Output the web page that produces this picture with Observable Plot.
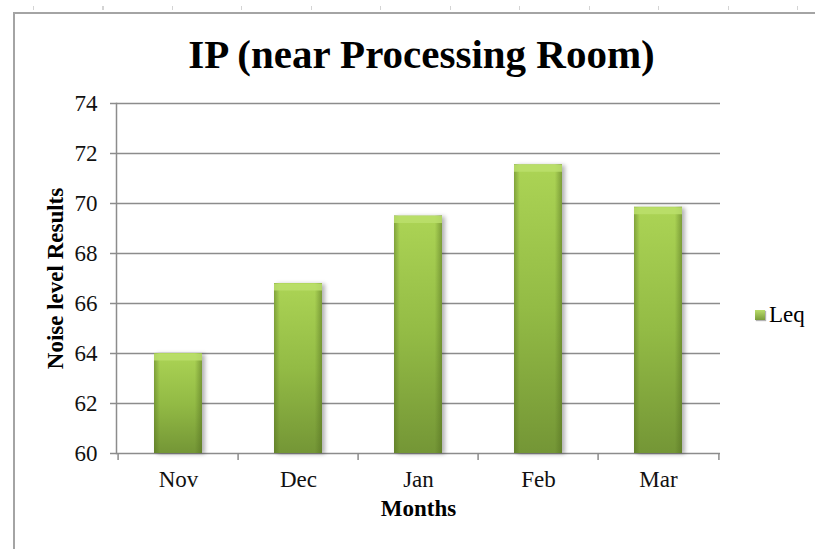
<!DOCTYPE html>
<html>
<head>
<meta charset="utf-8">
<script src="https://cdn.jsdelivr.net/npm/d3@7"></script>
<script src="https://cdn.jsdelivr.net/npm/@observablehq/plot@0.6"></script>
<style>
  html, body { margin: 0; padding: 0; background: #fff; }
  #wrap { position: relative; width: 815px; height: 549px; overflow: hidden; background: #fff; font-family: "Liberation Serif", "Times New Roman", serif; }
  #title { padding-top: 34px; height: 40px; line-height: 40px; padding-bottom: 11px; font-size: 41px; font-weight: bold; text-align: center; padding-left: 28px; box-sizing: content-box; color: #000; }
  #frameTop { position: absolute; left: 14px; top: 12px; width: 801px; height: 2px; background: #a4a4a4; }
  #frameLeft { position: absolute; left: 13px; top: 12px; width: 2px; height: 537px; background: #a4a4a4; }
  #ruler { position: absolute; left: 33px; top: 6px; width: 782px; height: 4px; background: repeating-linear-gradient(to right, #d4d4d4 0 1px, transparent 1px 69.5px); }
  #legend { position: absolute; left: 755px; top: 302px; font-size: 23px; display: flex; align-items: center; color: #000; }
  #legend .sw { width: 10px; height: 10px; margin-right: 4px; background: linear-gradient(to bottom, #b9dd6a, #7a9c3a); box-shadow: 1px 1px 1px rgba(0,0,0,0.3); }
  #chart svg text { font-family: "Liberation Serif", "Times New Roman", serif; }
  svg g[aria-label="y-axis tick"] { stroke: #8c8c8c; stroke-width: 1.5; }
</style>
</head>
<body>
<div id="wrap">
  <div id="frameTop"></div>
  <div id="frameLeft"></div>
  <div id="ruler"></div>
  <div id="title"></div>
  <div id="chart"></div>
  <div id="legend"><div class="sw"></div><span id="legText"></span></div>
</div>
<script>
const chartTitle = "IP (near Processing Room)";
const yLabel = "Noise level Results";
const xLabel = "Months";
const seriesName = "Leq";
const months = ["Nov", "Dec", "Jan", "Feb", "Mar"];
const leq = [64.0, 66.8, 69.5, 71.55, 69.85];
const yTicks = [60, 62, 64, 66, 68, 70, 72, 74];

document.getElementById("title").textContent = chartTitle;
document.getElementById("legText").textContent = seriesName;

const data = months.map((m, i) => ({month: m, value: leq[i]}));
const baseline = yTicks[0];

const W = 815, H = 464, ML = 116, MR = 95, MT = 18, MB = 96;
const step = (W - ML - MR) / months.length;
const plotH = H - MT - MB;
const gray = "#8c8c8c";

const plot = Plot.plot({
  width: W, height: H,
  marginLeft: ML, marginRight: MR, marginTop: MT, marginBottom: MB,
  style: {fontFamily: "Liberation Serif, Times New Roman, serif", fontSize: "23px", color: "#111", background: "transparent"},
  x: {type: "band", domain: months, paddingInner: 0.6, paddingOuter: 0.3, label: null},
  y: {domain: [yTicks[0], yTicks[yTicks.length - 1]], label: null},
  marks: [
    Plot.ruleY(yTicks, {stroke: gray, strokeWidth: 1.5}),
    Plot.barY(data, {x: "month", y1: () => baseline, y2: "value", fill: "url(#barV)"}),
    Plot.barY(data, {x: "month", y1: () => baseline, y2: "value", fill: "url(#barH)"}),
    Plot.tickY(data, {x: "month", y: "value", stroke: "#bbdf6c", strokeWidth: 7, dy: 3.5, strokeOpacity: 0.85}),
    Plot.frame({anchor: "left", stroke: gray, strokeWidth: 1.5}),
    Plot.ruleX(months, {x: d => d, dx: -step / 2, insetTop: plotH, insetBottom: -7, stroke: gray, strokeWidth: 1.5}),
    Plot.ruleX([months[months.length - 1]], {x: d => d, dx: step / 2, insetTop: plotH, insetBottom: -7, stroke: gray, strokeWidth: 1.5}),
    Plot.axisY({ticks: yTicks, tickSize: 6, tickPadding: 13, label: null, fontSize: 23}),
    Plot.axisX({tickSize: 0, tickPadding: 17, label: null, fontSize: 23}),
    Plot.text([yLabel], {text: d => d, frameAnchor: "left", textAnchor: "middle", rotate: -90, dx: -61, fontWeight: "bold", fontSize: 23, fill: "#000"}),
    Plot.text([xLabel], {text: d => d, frameAnchor: "bottom", dy: 62, fontWeight: "bold", fontSize: 23, fill: "#000"})
  ]
});

const svg = d3.select(plot);
const defs = svg.insert("defs", ":first-child");
const gv = defs.append("linearGradient").attr("id", "barV").attr("x1", 0).attr("y1", 0).attr("x2", 0).attr("y2", 1);
gv.append("stop").attr("offset", "0%").attr("stop-color", "#acd455");
gv.append("stop").attr("offset", "50%").attr("stop-color", "#93bb45");
gv.append("stop").attr("offset", "100%").attr("stop-color", "#749636");
const gh = defs.append("linearGradient").attr("id", "barH").attr("x1", 0).attr("y1", 0).attr("x2", 1).attr("y2", 0);
gh.append("stop").attr("offset", "0%").attr("stop-color", "#4f6a1e").attr("stop-opacity", 0.45);
gh.append("stop").attr("offset", "12%").attr("stop-color", "#4f6a1e").attr("stop-opacity", 0.0);
gh.append("stop").attr("offset", "85%").attr("stop-color", "#4f6a1e").attr("stop-opacity", 0.0);
gh.append("stop").attr("offset", "100%").attr("stop-color", "#4f6a1e").attr("stop-opacity", 0.5);
svg.select('g[aria-label="bar"]').style("filter", "drop-shadow(3px 1px 2px rgba(0,0,0,0.3))");

document.getElementById("chart").appendChild(plot);
</script>
</body>
</html>
